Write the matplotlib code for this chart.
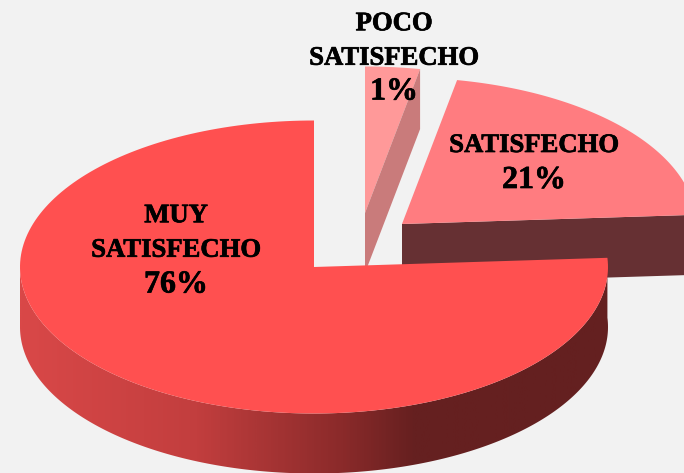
import numpy as np
import matplotlib
matplotlib.use("Agg")
import matplotlib.pyplot as plt
import matplotlib.patheffects as pe
from matplotlib.colors import LinearSegmentedColormap
from matplotlib.patches import Polygon

# datos de la torta
categorias = ["MUY\nSATISFECHO", "SATISFECHO", "POCO\nSATISFECHO"]
valores = [76, 21, 3]
etiquetas_pct = ["76%", "21%", "1%"]

colores_top = ["#ff5050", "#ff7c80", "#ff9999"]
color_corte_sat = "#663033"
color_corte_poco = "#c97b7b"
fondo = "#f2f2f2"

# geometria en pixeles de la figura
cx, cy = 314, 267
rx, ry = 294, 146.5
alto = 60
desplaz = [(0, 0), (88, -43), (51, -54)]


def borde(t, dx=0, dy=0):
    # t en grados, medido desde las 12 en sentido horario
    r = np.radians(t)
    return cx + dx + rx * np.sin(r), cy + dy - ry * np.cos(r)


def cuna(t0, t1, dx, dy):
    ts = np.linspace(t0, t1, 200)
    xs, ys = borde(ts, dx, dy)
    return np.column_stack([np.r_[cx + dx, xs], np.r_[cy + dy, ys]])


fig = plt.figure(figsize=(6.84, 4.73), dpi=100, facecolor=fondo)
ax = fig.add_axes([0, 0, 1, 1])
ax.set_xlim(0, 684)
ax.set_ylim(473, 0)
ax.axis("off")

# angulos: la primera porcion termina a las 12, las demas siguen desde ahi
grados = 360 * np.array(valores) / sum(valores)
ini_muy = 360 - grados[0]
ini_poco = 0
fin_poco = grados[2]
ini_sat = fin_poco
fin_sat = ini_muy

# POCO SATISFECHO: cara de corte y tapa
dx, dy = desplaz[2]
x1, y1 = borde(fin_poco, dx, dy)
ax.add_patch(Polygon(cuna(ini_poco, fin_poco, dx, dy), fc=colores_top[2], ec="none", zorder=1))
ax.add_patch(Polygon([(cx + dx, cy + dy), (x1, y1), (x1, y1 + alto), (cx + dx, cy + dy + alto)],
                     fc=color_corte_poco, ec="none", zorder=2))

# SATISFECHO: cara de corte y tapa
dx, dy = desplaz[1]
x1, y1 = borde(fin_sat, dx, dy)
ax.add_patch(Polygon([(cx + dx, cy + dy), (x1, y1), (x1, y1 + alto), (cx + dx, cy + dy + alto)],
                     fc=color_corte_sat, ec="none", zorder=3))
ax.add_patch(Polygon(cuna(ini_sat, fin_sat, dx, dy), fc=colores_top[1], ec="none", zorder=4))

# MUY SATISFECHO: pared con degradado
ts = np.linspace(ini_muy, 270, 400)
xs, ys = borde(ts)
pared = Polygon(np.column_stack([np.r_[xs, xs[::-1]], np.r_[ys, ys[::-1] + alto]]),
                fc="none", ec="none", transform=ax.transData, zorder=5)
ax.add_patch(pared)
cmap = LinearSegmentedColormap.from_list("pared", [
    (0.0, "#d94848"), (0.3, "#c23e3e"), (0.55, "#8a2a2a"), (0.67, "#662020"), (1.0, "#642020")])
img = ax.imshow(np.linspace(0, 1, 600).reshape(1, -1), cmap=cmap, aspect="auto",
                extent=(cx - rx, cx + rx, cy + ry + alto, cy - ry), zorder=5)
img.set_clip_path(pared)
ax.set_xlim(0, 684)
ax.set_ylim(473, 0)

# tapa
ax.add_patch(Polygon(cuna(ini_muy, 360, 0, 0), fc=colores_top[0], ec="none", zorder=6))

# textos: los porcentajes van aparte porque en el original se ven mas grandes
fuente = dict(family="Liberation Serif", fontweight="bold", color="black",
              ha="center", va="center", linespacing=1.5, zorder=10,
              path_effects=[pe.withStroke(linewidth=0.5, foreground="black")])
ax.text(176, 233, categorias[0], fontsize=19.2, **fuente)
ax.text(176, 285, etiquetas_pct[0], fontsize=23, **fuente)
ax.text(534, 145.5, categorias[1], fontsize=19.2, **fuente)
ax.text(534, 180.5, etiquetas_pct[1], fontsize=23, **fuente)
ax.text(394, 41, categorias[2], fontsize=19.2, **fuente)
ax.text(394, 92, etiquetas_pct[2], fontsize=23, **fuente)

fig.savefig("out.png", dpi=100, facecolor=fondo)
